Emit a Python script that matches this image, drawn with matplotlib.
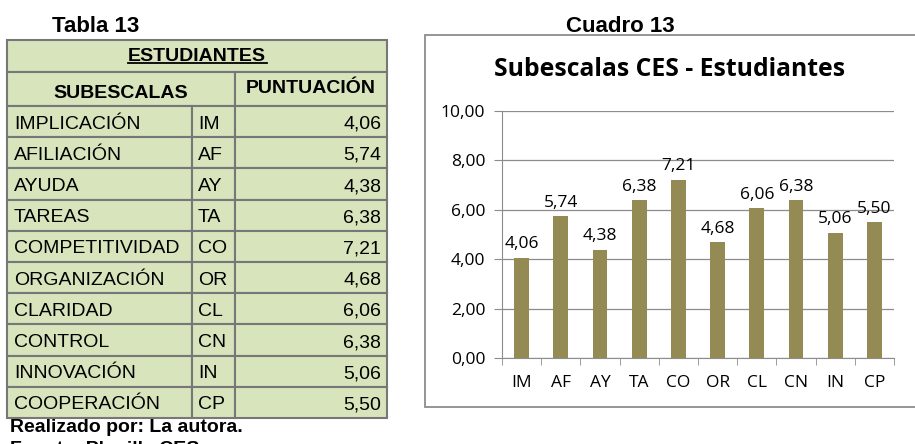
import matplotlib.pyplot as plt
from matplotlib.patches import Rectangle
import numpy as np

# Datos de la tabla / gráfico
subescalas = ["IMPLICACIÓN", "AFILIACIÓN", "AYUDA", "TAREAS", "COMPETITIVIDAD",
              "ORGANIZACIÓN", "CLARIDAD", "CONTROL", "INNOVACIÓN", "COOPERACIÓN"]
codigos = ["IM", "AF", "AY", "TA", "CO", "OR", "CL", "CN", "IN", "CP"]
puntuacion = [4.06, 5.74, 4.38, 6.38, 7.21, 4.68, 6.06, 6.38, 5.06, 5.50]

W, H = 915, 444
fig = plt.figure(figsize=(W / 100, H / 100), dpi=100)

# Capa de fondo en coordenadas de pixel para la tabla y los textos
bg = fig.add_axes([0, 0, 1, 1])
bg.set_xlim(0, W)
bg.set_ylim(H, 0)
bg.axis("off")

def fmt(v):
    return f"{v:.2f}".replace(".", ",")

verde = "#d8e4bc"
borde = "#777777"
x0, xc1, xc2, x1 = 7, 192, 235, 387
y_h1, y_h2, y_d = 40, 72, 106
rh = 31.2
fs_tab = 14
arial = "Liberation Sans"

# Encabezados
bg.add_patch(Rectangle((x0, y_h1), x1 - x0, y_h2 - y_h1, fc=verde, ec=borde, lw=1.5))
bg.add_patch(Rectangle((x0, y_h2), xc2 - x0, y_d - y_h2, fc=verde, ec=borde, lw=1.5))
bg.add_patch(Rectangle((xc2, y_h2), x1 - xc2, y_d - y_h2, fc=verde, ec=borde, lw=1.5))
bg.text((x0 + x1) / 2, (y_h1 + y_h2) / 2 + 0.5, "ESTUDIANTES", ha="center", va="center",
        fontsize=fs_tab, fontweight="bold", family=arial)
bg.plot([128, 267], [63, 63], color="black", lw=1.3)
bg.text((x0 + xc2) / 2, (y_h2 + y_d) / 2 + 4, "SUBESCALAS", ha="center", va="center",
        fontsize=fs_tab, fontweight="bold", family=arial)
bg.text((xc2 + x1) / 2, (y_h2 + y_d) / 2 - 0.5, "PUNTUACIÓN", ha="center", va="center",
        fontsize=fs_tab, fontweight="bold", family=arial)

# Filas de datos
for i, (nom, cod, val) in enumerate(zip(subescalas, codigos, puntuacion)):
    y = y_d + i * rh
    for xa, xb in [(x0, xc1), (xc1, xc2), (xc2, x1)]:
        bg.add_patch(Rectangle((xa, y), xb - xa, rh, fc=verde, ec=borde, lw=1.5))
    yc = y + rh / 2 + 2.5
    bg.text(x0 + 7, yc, nom, ha="left", va="center", fontsize=fs_tab, family=arial)
    bg.text(xc1 + 6, yc, cod, ha="left", va="center", fontsize=fs_tab, family=arial)
    bg.text(x1 - 6, yc, fmt(val), ha="right", va="center", fontsize=fs_tab, family=arial)

bg.text(52, 27, "Tabla 13", ha="left", va="center", fontsize=16, fontweight="bold",
        family=arial)
bg.text(620, 26, "Cuadro 13", ha="center", va="center", fontsize=16, fontweight="bold",
        family=arial)
bg.text(10, 427, "Realizado por: La autora.", ha="left", va="center", fontsize=14,
        fontweight="bold", family=arial)
bg.text(10, 449, "Fuente: Planilla CES", ha="left", va="center", fontsize=14,
        fontweight="bold", family=arial)

# Marco del gráfico
bg.add_patch(Rectangle((425, 35), 600, 372, fc="white", ec="#8c8c8c", lw=1.3))

# Gráfico de barras
ax = fig.add_axes([502 / W, 1 - 358 / H, (894 - 502) / W, (358 - 111) / H])
x = np.arange(len(codigos))
ax.bar(x, puntuacion, width=0.38, color="#948a54", zorder=3)
ax.set_xlim(-0.5, len(codigos) - 0.5)
ax.set_ylim(0, 10)
ax.set_yticks(np.arange(0, 10.01, 2))
ax.set_yticklabels([fmt(v) for v in np.arange(0, 10.01, 2)])
ax.set_xticks(x)
ax.set_xticklabels(codigos)
ax.set_xticks(np.arange(-0.5, len(codigos), 1), minor=True)
ax.tick_params(axis="x", which="major", length=0, pad=12)
ax.tick_params(axis="x", which="minor", length=5, color="#8c8c8c", direction="out")
ax.tick_params(axis="y", length=6, color="#8c8c8c", pad=6)
for lab in ax.get_xticklabels() + ax.get_yticklabels():
    lab.set_fontsize(12.5)
    lab.set_family("Open Sans")
ax.grid(axis="y", color="#8c8c8c", lw=0.9, zorder=0)
for s in ["top", "right"]:
    ax.spines[s].set_visible(False)
ax.spines["left"].set_color("#8c8c8c")
ax.spines["bottom"].set_color("#8c8c8c")
for xi, v in zip(x, puntuacion):
    ax.annotate(fmt(v), (xi, v), xytext=(0, 4), textcoords="offset points",
                ha="center", va="bottom", fontsize=12.5, family="Open Sans")

fig.text(670 / W, 1 - 70 / H, "Subescalas CES - Estudiantes", ha="center", va="center",
         fontsize=17.8, fontweight="bold", family="Open Sans")

fig.savefig("out.png", dpi=100)
